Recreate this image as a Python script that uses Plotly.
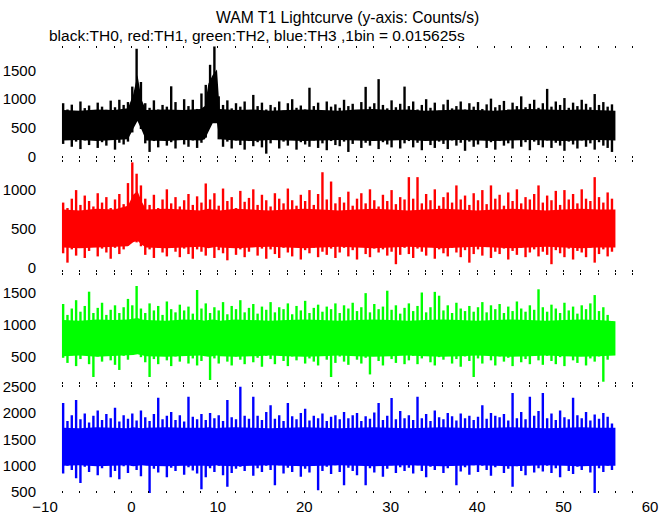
import plotly.graph_objects as go

# time grid: 0.5 s envelope bins starting at -7.9 s
t_start = -7.9
t_step = 0.5
n_bins = 128
time = [round(t_start + t_step * i, 2) for i in range(n_bins)]

# spike tips (counts/s), upper / lower per 0.5 s
th0_hi = [930, 820, 905, 790, 960, 845, 890, 800, 940, 870, 815, 975, 860, 990, 900, 950,
          1220, 1880, 1300, 930, 850, 980, 820, 900, 870, 1225, 950, 800, 1000, 880, 990, 830,
          1100, 1250, 1600, 1920, 1050, 900, 980, 840, 930, 870, 960, 810, 1075, 880, 940, 820,
          900, 860, 960, 800, 930, 1000, 850, 890, 820, 1200, 880, 940, 790, 960, 870, 910,
          850, 990, 880, 920, 800, 950, 1215, 870, 930, 1350, 900, 840, 980, 860, 920, 1220,
          880, 960, 820, 900, 1000, 850, 940, 800, 910, 990, 840, 880, 960, 820, 930, 870,
          950, 830, 910, 1010, 860, 900, 970, 820, 940, 880, 1050, 860, 920, 990, 850, 930,
          1180, 870, 960, 900, 1020, 850, 940, 880, 990, 920, 860, 1090, 900, 950, 870, 910]
th0_lo = [220, 300, 170, 260, 130, 280, 200, 310, 150, 250, 190, 290, 120, 240, 210, 260,
          420, 640, 480, 230, 80, 270, 160, 300, 190, 250, 140, 290, 210, 170, 280, 150,
          240, 330, 560, 620, 300, 170, 260, 140, 280, 200, 120, 270, 180, 250, 160, 50,
          230, 290, 140, 260, 190, 300, 120, 250, 210, 170, 280, 150, 230, 110, 270, 200,
          180, 260, 80, 220, 290, 150, 240, 190, 280, 130, 250, 210, 160, 300, 140, 230,
          270, 160, 240, 110, 290, 200, 150, 260, 220, 130, 280, 190, 240, 100, 260, 170,
          210, 290, 150, 250, 120, 270, 190, 230, 140, 300, 170, 250, 110, 260, 200, 160,
          280, 150, 240, 190, 100, 260, 210, 140, 280, 170, 230, 120, 250, 190, 150, 80]

th1_hi = [830, 760, 880, 990, 800, 920, 850, 780, 950, 830, 900, 760, 870, 940, 810, 1080,
          1345, 1200, 1050, 880, 800, 930, 760, 870, 1000, 820, 900, 780, 860, 940, 800, 910,
          830, 1075, 870, 950, 790, 1010, 850, 900, 760, 980, 840, 890, 1000, 800, 930, 860,
          780, 950, 880, 820, 1010, 860, 790, 930, 850, 990, 800, 940, 1219, 870, 1100, 820,
          900, 830, 970, 790, 880, 950, 820, 1000, 860, 780, 930, 850, 990, 810, 900, 870,
          1156, 880, 1156, 820, 940, 860, 1000, 790, 900, 960, 830, 1050, 870, 920, 800, 950,
          860, 990, 810, 1050, 880, 930, 790, 960, 850, 1000, 820, 900, 870, 940, 1050, 830,
          920, 860, 980, 800, 990, 870, 940, 820, 1000, 880, 850, 1156, 900, 830, 960, 880]
th1_lo = [180, 60, 230, 150, 260, 120, 210, 270, 140, 240, 190, 110, 250, 170, 230, 280,
          350, 320, 270, 160, 230, 120, 250, 190, 140, 260, 200, 130, 240, 170, 110, 230,
          200, 150, 260, 120, 220, 180, 90, 250, 160, 230, 130, 200, 260, 150, 240, 110,
          230, 170, 120, 250, 190, 140, 260, 100, 220, 180, 250, 130, 200, 160, 240, 120,
          190, 250, 140, 220, 100, 260, 170, 130, 240, 190, 230, 150, 200, 40, 160, 250,
          170, 120, 240, 200, 150, 260, 110, 230, 180, 140, 250, 190, 130, 220, 60, 170,
          230, 150, 260, 120, 200, 170, 240, 100, 210, 160, 250, 130, 190, 230, 140, 200,
          160, 40, 220, 180, 130, 240, 100, 210, 190, 130, 250, 60, 170, 230, 140, 200]

th2_hi = [1320, 1150, 1250, 1380, 1200, 1290, 1513, 1180, 1260, 1340, 1150, 1230, 1300, 1180, 1270, 1400,
          1300, 1602, 1250, 1180, 1330, 1220, 1290, 1150, 1360, 1240, 1190, 1310, 1220, 1280, 1170, 1539,
          1250, 1330, 1180, 1270, 1220, 1350, 1160, 1290, 1240, 1380, 1190, 1260, 1320, 1170, 1280, 1230,
          1350, 1190, 1270, 1240, 1330, 1160, 1290, 1220, 1370, 1180, 1260, 1310, 1200, 1280, 1240, 1330,
          1180, 1300, 1250, 1340, 1210, 1270, 1490, 1190, 1320, 1240, 1280, 1528, 1230, 1300, 1170, 1260,
          1330, 1210, 1290, 1500, 1190, 1270, 1510, 1450, 1220, 1300, 1180, 1340, 1250, 1210, 1290, 1200,
          1270, 1350, 1190, 1300, 1240, 1320, 1180, 1280, 1210, 1360, 1250, 1200, 1300, 1230, 1550, 1270,
          1200, 1310, 1250, 1180, 1340, 1220, 1280, 1170, 1300, 1240, 1330, 1460, 1210, 1270, 1150, 1050]
th2_lo = [480, 400, 520, 350, 460, 540, 380, 180, 500, 420, 560, 440, 370, 290, 510, 450,
          530, 600, 490, 410, 180, 460, 380, 520, 440, 350, 500, 420, 540, 390, 470, 360,
          430, 520, 133, 470, 390, 540, 420, 360, 500, 450, 380, 530, 410, 480, 340, 510,
          460, 380, 520, 430, 350, 500, 440, 540, 390, 470, 420, 360, 510, 450, 180, 400,
          500, 420, 370, 530, 450, 390, 480, 220, 510, 430, 360, 520, 460, 400, 540, 380,
          440, 510, 380, 470, 530, 410, 360, 490, 450, 520, 390, 460, 340, 500, 430, 180,
          470, 390, 530, 440, 360, 500, 420, 480, 350, 520, 410, 460, 380, 540, 440, 370,
          510, 430, 380, 490, 350, 520, 440, 400, 530, 360, 470, 420, 500, 106, 450, 560]

th3_hi = [2190, 1850, 1960, 2250, 1880, 1990, 1820, 1950, 2050, 1870, 1980, 1900, 2100, 1840, 1960, 1890,
          1990, 1860, 2050, 1920, 1850, 1980, 2290, 1880, 1950, 2020, 1870, 1960, 1840, 2310, 1930, 1880,
          1980, 1870, 2000, 1900, 1960, 1850, 2250, 1920, 1880, 2500, 1950, 1890, 2310, 1950, 1870, 2020,
          2150, 1890, 1960, 1850, 2190, 1940, 1880, 2000, 2080, 1860, 1950, 1900, 1990, 1850, 1930, 1960,
          1880, 2020, 1900, 1960, 2000, 1850, 1940, 1890, 2010, 2190, 1870, 1950, 2285, 1880, 2040, 1900,
          1960, 1870, 2310, 1900, 1980, 1850, 2050, 1920, 1880, 2000, 1940, 1860, 1990, 1900, 1950, 1870,
          1930, 2150, 1890, 2000, 1950, 1920, 1980, 1860, 2380, 1900, 2020, 1880, 2310, 1950, 2040, 2380,
          1900, 1990, 1870, 2050, 1920, 1880, 2290, 1960, 1900, 2020, 1860, 1970, 1890, 2000, 1930, 1800]
th3_lo = [850, 1000, 920, 760, 670, 980, 880, 1040, 820, 950, 1010, 780, 900, 740, 990, 860,
          1000, 920, 800, 1030, 480, 940, 870, 1010, 780, 960, 900, 1050, 830, 970, 910, 850,
          550, 780, 950, 880, 1000, 820, 600, 860, 940, 980, 900, 1020, 810, 950, 880, 1000,
          920, 630, 1010, 850, 960, 880, 1030, 790, 940, 870, 1000, 535, 900, 980, 840, 1010,
          880, 630, 960, 900, 820, 1020, 630, 950, 870, 1000, 790, 940, 1010, 860, 970, 900,
          960, 850, 1010, 900, 780, 980, 920, 1040, 860, 950, 1000, 630, 890, 970, 830, 1010,
          880, 1000, 920, 810, 970, 1030, 860, 940, 600, 990, 900, 820, 1010, 870, 950, 890,
          1000, 860, 950, 780, 1020, 900, 840, 980, 920, 1010, 870, 480, 950, 880, 1000, 920]

# solid core of each band (counts/s), read at these times
core_time = [-7.9, -6, -4, -2, -0.4, 0.2, 0.7, 1.2, 1.7, 4, 6, 8, 8.5, 8.9, 9.4, 9.9, 10.2,
             12, 14, 16, 18, 20, 22, 24, 26, 28, 30, 32, 34, 36, 38, 40, 42, 44, 46, 48, 50, 52, 54, 56]
th0_core_hi = [810, 800, 820, 810, 840, 1080, 1420, 980, 810, 820, 810, 830, 880, 1270, 1420, 1520, 830,
               810, 820, 800, 810, 820, 810, 800, 820, 830, 810, 820, 800, 810, 820, 810, 800, 820, 830, 820, 810, 820, 810, 800]
th0_core_lo = [280, 290, 270, 280, 300, 480, 620, 460, 280, 270, 290, 280, 300, 430, 580, 580, 300,
               280, 270, 290, 280, 270, 280, 290, 280, 270, 280, 290, 270, 280, 290, 280, 270, 280, 290, 280, 270, 280, 290, 280]
th1_core_hi = [740, 730, 750, 740, 790, 930, 980, 840, 740, 750, 740, 730, 740, 750, 740, 740, 730,
               750, 740, 730, 740, 750, 740, 730, 740, 750, 740, 730, 740, 750, 740, 730, 740, 750, 740, 730, 740, 750, 740, 740]
th1_core_lo = [255, 245, 255, 265, 270, 320, 340, 290, 255, 245, 255, 265, 255, 245, 255, 265, 255,
               245, 255, 265, 255, 245, 255, 265, 255, 245, 255, 265, 255, 245, 255, 265, 255, 245, 255, 265, 255, 245, 255, 255]
th2_core_hi = [1070, 1060, 1080, 1070, 1080, 1090, 1100, 1080, 1070, 1060, 1080, 1070, 1060, 1070, 1080, 1070, 1060,
               1080, 1070, 1060, 1070, 1080, 1070, 1060, 1070, 1080, 1070, 1060, 1070, 1080, 1070, 1060, 1070, 1080, 1070, 1060, 1070, 1080, 1070, 1050]
th2_core_lo = [505, 515, 495, 505, 515, 525, 535, 515, 505, 495, 505, 515, 505, 495, 505, 515, 505,
               495, 505, 515, 505, 495, 505, 515, 505, 495, 505, 515, 505, 495, 505, 515, 505, 495, 505, 515, 505, 495, 505, 515]
th3_core_hi = [1720, 1710, 1730, 1720, 1710, 1730, 1720, 1710, 1720, 1730, 1720, 1710, 1720, 1730, 1720, 1710, 1720,
               1730, 1720, 1710, 1720, 1730, 1720, 1710, 1720, 1730, 1720, 1710, 1720, 1730, 1720, 1710, 1720, 1730, 1720, 1710, 1720, 1730, 1720, 1720]
th3_core_lo = [1000, 1010, 990, 1000, 1010, 990, 1000, 1010, 1000, 990, 1000, 1010, 1000, 990, 1000, 1010, 1000,
               990, 1000, 1010, 1000, 990, 1000, 1010, 1000, 990, 1000, 1010, 1000, 990, 1000, 1010, 1000, 990, 1000, 1010, 1000, 990, 1000, 1000]

series_names = ["TH0", "TH1", "TH2", "TH3"]
series_hi = [th0_hi, th1_hi, th2_hi, th3_hi]
series_lo = [th0_lo, th1_lo, th2_lo, th3_lo]
core_hi = [th0_core_hi, th1_core_hi, th2_core_hi, th3_core_hi]
core_lo = [th0_core_lo, th1_core_lo, th2_core_lo, th3_core_lo]
colors = ["#000000", "#ff0000", "#00ff00", "#0000ff"]

y_tickvals = [[0, 500, 1000, 1500], [0, 500, 1000], [500, 1000, 1500], [500, 1000, 1500, 2000, 2500]]
y_ranges = [[-26, 1928], [-60, 1376], [70, 1805], [481, 2542]]
y_domains = [[0.7494, 1.0], [0.4944, 0.7450], [0.2438, 0.4922], [0.0, 0.2427]]

x_tickvals = [-10, 0, 10, 20, 30, 40, 50, 60]

title_line1 = "WAM T1 Lightcurve (y-axis: Counts/s)"
title_line2 = "black:TH0, red:TH1, green:TH2, blue:TH3 ,1bin = 0.015625s"

FONT = "Liberation Sans, Helvetica, Arial, sans-serif"

fig = go.Figure()
for k in range(4):
    xa = "x" if k == 0 else f"x{k+1}"
    ya = "y" if k == 0 else f"y{k+1}"
    # solid core band
    fig.add_trace(go.Scatter(x=core_time, y=core_lo[k], xaxis=xa, yaxis=ya, mode="lines",
                             line=dict(color=colors[k], width=0), showlegend=False,
                             hoverinfo="skip"))
    fig.add_trace(go.Scatter(x=core_time, y=core_hi[k], xaxis=xa, yaxis=ya, mode="lines",
                             line=dict(color=colors[k], width=0), fill="tonexty",
                             fillcolor=colors[k], showlegend=False, hoverinfo="skip"))
    # spikes: vertical strokes from low tip to high tip in each bin
    sx, sy = [], []
    for t, lo, hi in zip(time, series_lo[k], series_hi[k]):
        sx += [t, t, None]
        sy += [lo, hi, None]
    fig.add_trace(go.Scatter(x=sx, y=sy, xaxis=xa, yaxis=ya, mode="lines",
                             line=dict(color=colors[k], width=2.4), showlegend=False,
                             name=series_names[k]))

layout = dict(
    width=672, height=515,
    margin=dict(l=45, r=22, t=46, b=22, autoexpand=False),
    paper_bgcolor="white", plot_bgcolor="white",
    font=dict(family=FONT, size=14, color="black"),
    showlegend=False,
)
for k in range(4):
    xkey = "xaxis" if k == 0 else f"xaxis{k+1}"
    ykey = "yaxis" if k == 0 else f"yaxis{k+1}"
    yname = "y" if k == 0 else f"y{k+1}"
    xname = "x" if k == 0 else f"x{k+1}"
    layout[xkey] = dict(
        domain=[0, 1], anchor=yname, range=[-10, 60], automargin=False,
        tickvals=x_tickvals, showticklabels=(k == 3),
        ticks="inside", ticklen=2, tickwidth=1, tickcolor="black",
        minor=dict(dtick=2, ticks="inside", ticklen=2, tickcolor="black", tickwidth=1),
        mirror="ticks", showline=False, showgrid=False, zeroline=False,
        tickfont=dict(size=15, family=FONT), ticklabelstandoff=3,
    )
    if k > 0:
        layout[xkey]["matches"] = "x"
    layout[ykey] = dict(
        domain=y_domains[k], anchor=xname, range=y_ranges[k], automargin=False,
        tickvals=y_tickvals[k], ticks="", showline=False, showgrid=False, zeroline=False,
        tickfont=dict(size=15, family=FONT), ticklabelstandoff=8,
    )
fig.update_layout(**layout)

fig.add_annotation(text=title_line1, xref="paper", yref="paper", x=0.5, y=1.0,
                   yshift=29, xanchor="center", yanchor="middle", showarrow=False,
                   font=dict(size=15.7, family=FONT, color="black"))
fig.add_annotation(text=title_line2, xref="paper", yref="paper", x=0.0, y=1.0,
                   xshift=2, yshift=11, xanchor="left", yanchor="middle", showarrow=False,
                   font=dict(size=15.5, family=FONT, color="black"))

fig.write_html("out.html", config={"displayModeBar": False},
               post_script="document.body.style.margin='0';document.body.style.overflow='hidden';")
